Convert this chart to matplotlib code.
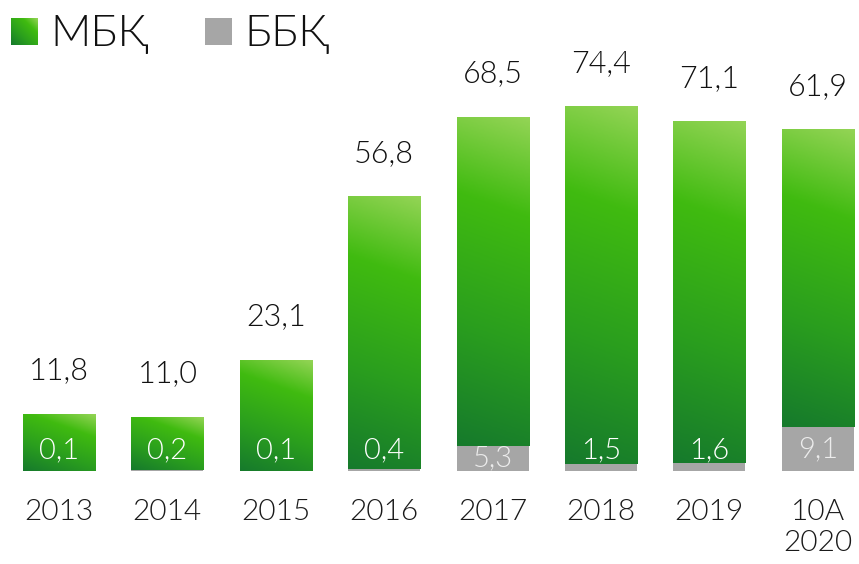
import numpy as np
import matplotlib
matplotlib.use("Agg")
import matplotlib.pyplot as plt
from matplotlib.colors import LinearSegmentedColormap
from matplotlib.patches import Rectangle

# data
years = ["2013", "2014", "2015", "2016", "2017", "2018", "2019", "10А\n2020"]
mbk = [11.8, 11.0, 23.1, 56.8, 68.5, 74.4, 71.1, 61.9]
bbk = [0.1, 0.2, 0.1, 0.4, 5.3, 1.5, 1.6, 9.1]

plt.rcParams['font.family'] = ['Lato', 'DejaVu Sans']
W = 300  # Lato Light

green = LinearSegmentedColormap.from_list(
    "grn", [(0.0, "#167a2c"), (0.35, "#2a9e1e"), (0.72, "#40bb10"), (1.0, "#93d455")])
GREY = "#a6a6a6"

px_unit = 4.8      # pixels per value unit
bar_w = 0.665
bar_px = 72

fig = plt.figure(figsize=(8.59, 5.64), dpi=100)
ax = fig.add_axes([0, 0, 1, 1])


def grad(h_px, w_px, nr=200, nc=40, k=0.25):
    v = np.linspace(0, 1, nr)[:, None]
    u = np.linspace(0, 1, nc)[None, :]
    return (v * h_px + k * u * w_px) / (h_px + k * w_px)


x = np.arange(len(years))
for i in range(len(years)):
    x0 = x[i] - bar_w / 2
    x1 = x[i] + bar_w / 2
    # grey part
    ax.add_patch(Rectangle((x0, 0), bar_w, bbk[i], color=GREY, lw=0))
    # green part with gradient
    y0 = bbk[i]
    y1 = bbk[i] + mbk[i]
    g = grad(mbk[i] * px_unit, bar_px, k=0.35)
    ax.imshow(g, cmap=green, vmin=0, vmax=1, origin="lower",
              extent=(x0, x1, y0, y1), aspect="auto", interpolation="bilinear")

    # value on top
    ax.text(x[i], y1 + 6.0, f"{mbk[i]:.1f}".replace(".", ","), ha="center",
            va="bottom", fontsize=22, color="#111111", fontweight=W)
    # bbk label
    if bbk[i] > 3:
        ly, lc = bbk[i] / 2, "#ececec"
    else:
        ly, lc = 4.3, "white"
    ax.text(x[i], ly, f"{bbk[i]:.1f}".replace(".", ","), ha="center",
            va="center", fontsize=21, color=lc, fontweight=W)
    # year
    ax.text(x[i], -5.8, years[i], ha="center", va="top", fontsize=21.5,
            color="#1a1a1a", linespacing=1.25, fontweight=W)

ax.set_xlim(-0.544, 7.380)
ax.set_ylim(-93 / px_unit, 471 / px_unit)
ax.axis("off")

# legend
lg = fig.add_axes([11 / 859, 1 - 45 / 564, 27 / 859, 27 / 564])
lg.imshow(grad(27, 27, 40, 40, k=1.0), cmap=green, vmin=0, vmax=1,
          origin="lower", aspect="auto", extent=(0, 1, 0, 1))
lg.axis("off")
fig.patches.append(Rectangle((205 / 859, 1 - 45 / 564), 27 / 859, 27 / 564,
                             transform=fig.transFigure, color=GREY, lw=0))
fig.text(50 / 859, 1 - 46 / 564, "МБҚ", fontsize=32, va="baseline",
         color="#111111", fontweight=W)
fig.text(244 / 859, 1 - 46 / 564, "ББҚ", fontsize=32, va="baseline",
         color="#111111", fontweight=W)

fig.savefig("out.png", dpi=100)
